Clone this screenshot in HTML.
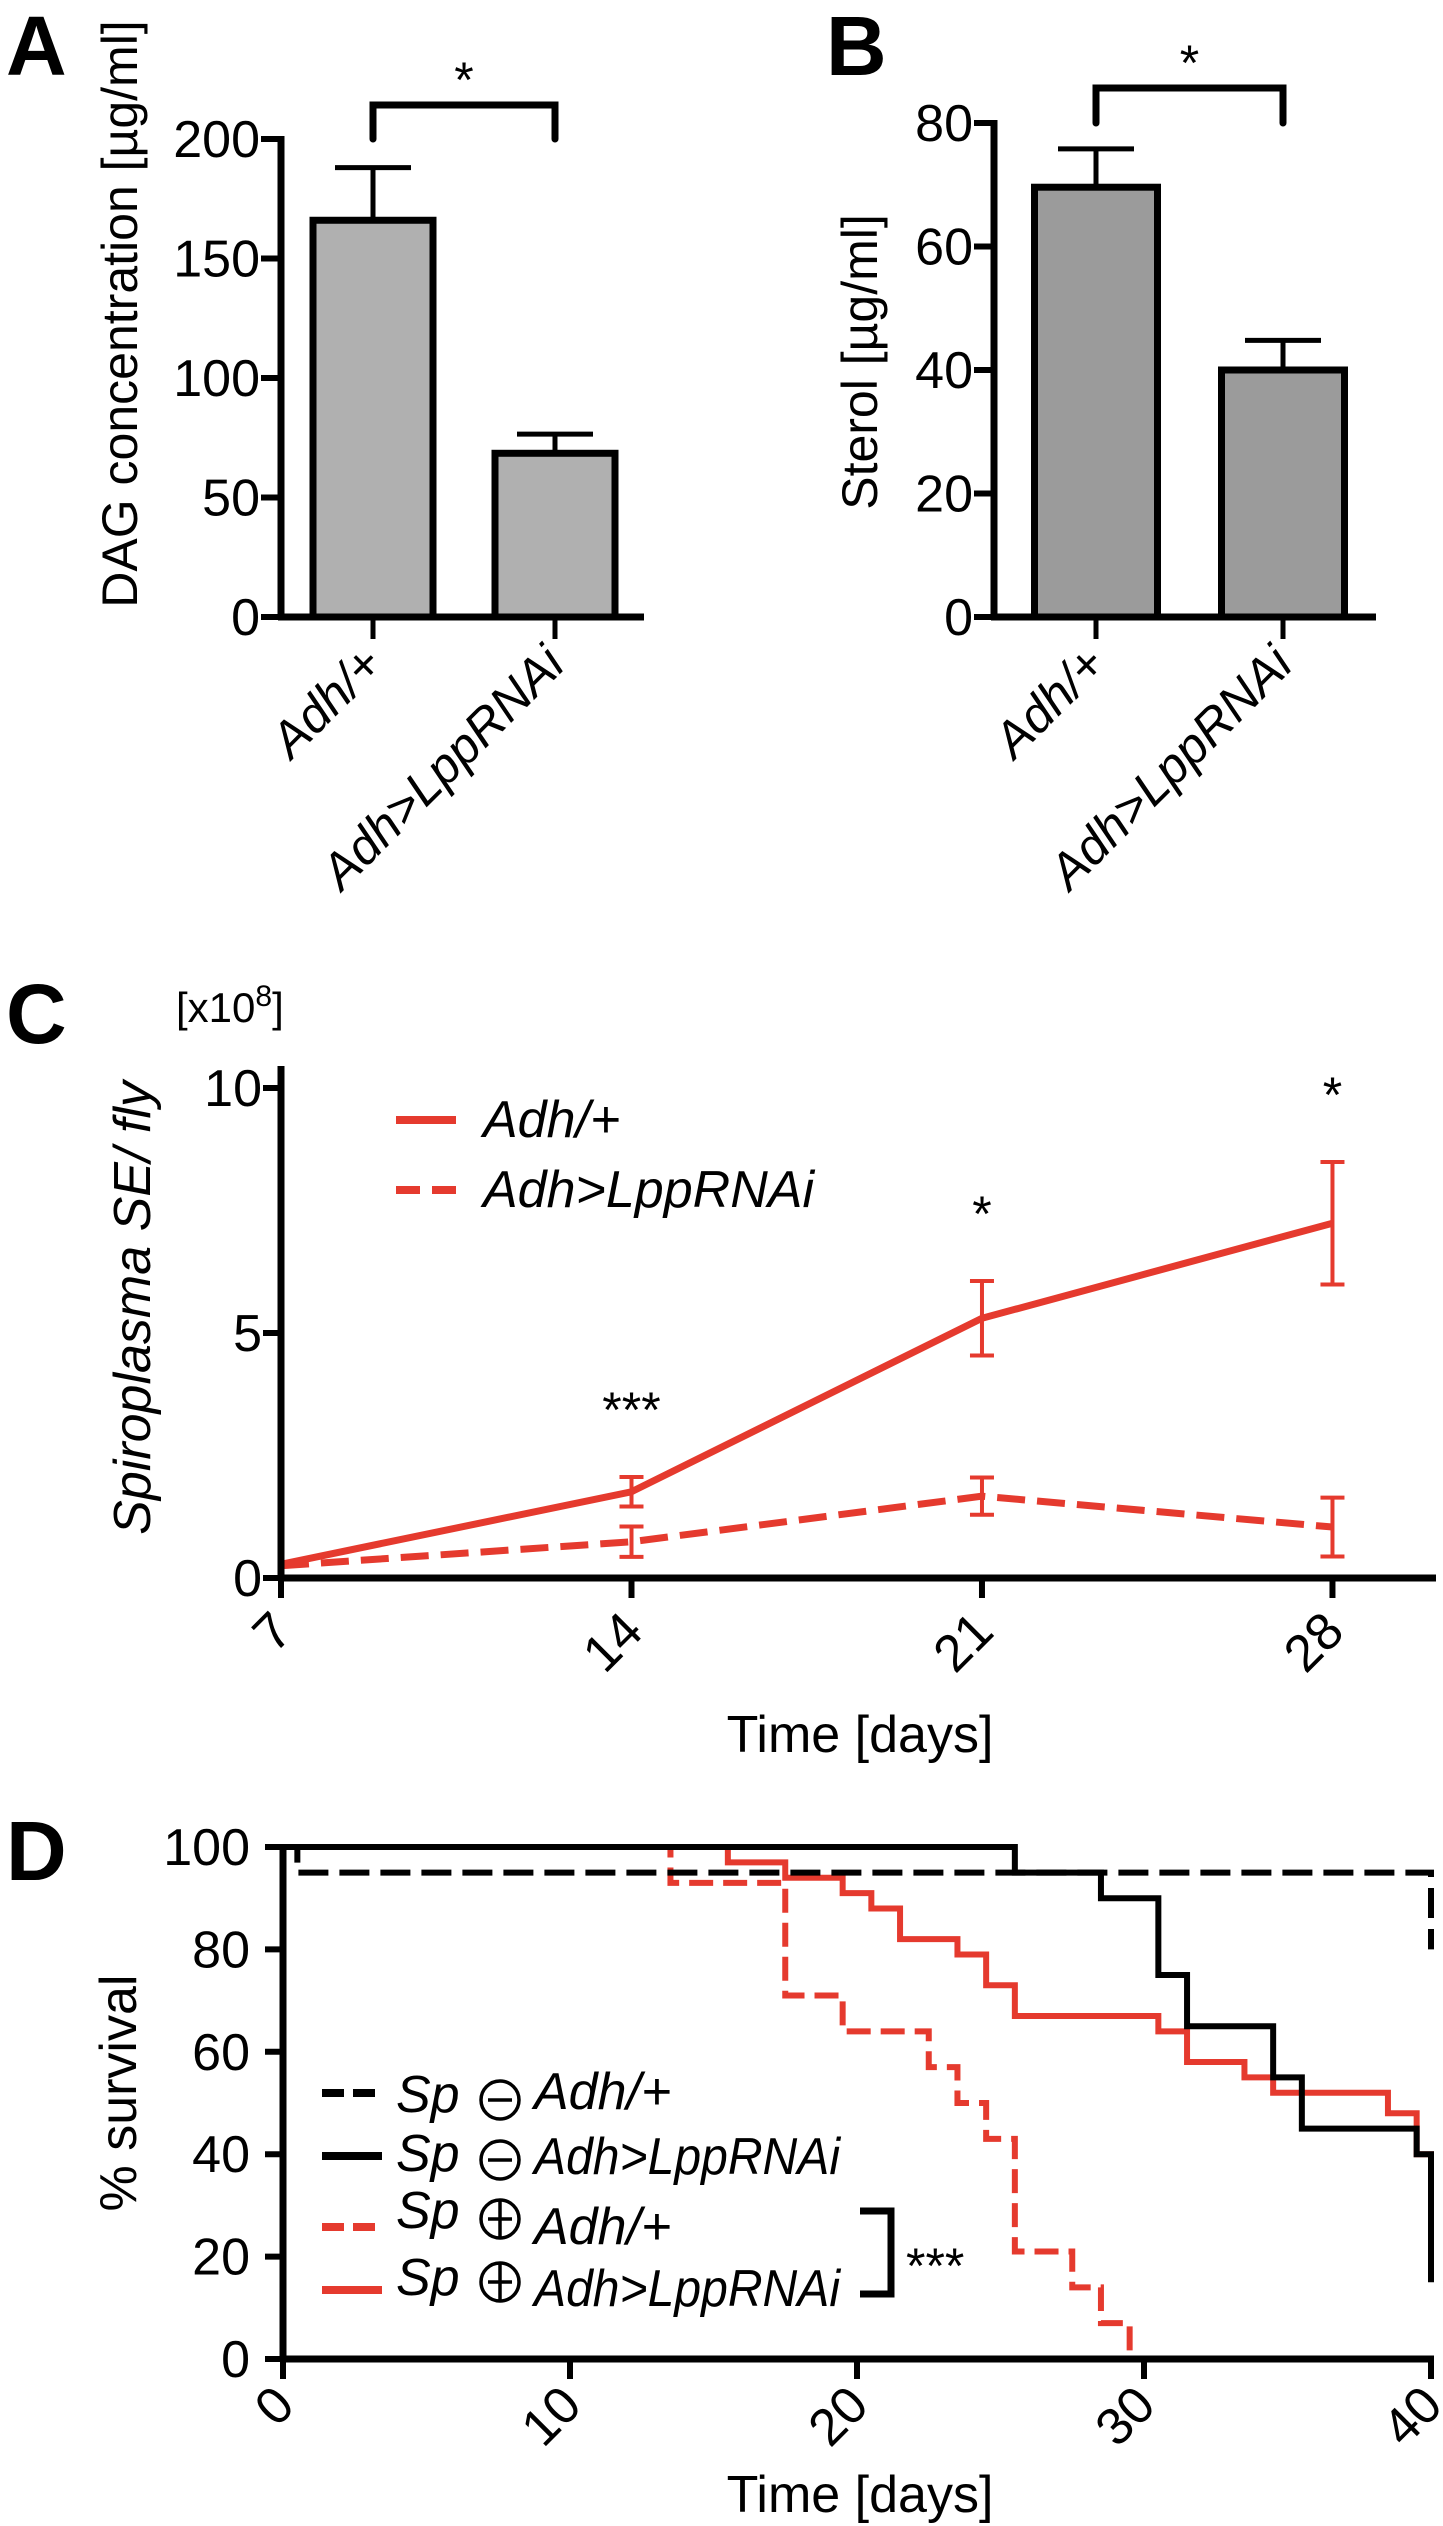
<!DOCTYPE html>
<html><head><meta charset="utf-8"><style>
html,body{margin:0;padding:0;background:#fff;}
svg{display:block;font-family:"Liberation Sans",Arial,sans-serif;}
</style></head><body>
<svg id="fig" width="1443" height="2526" viewBox="0 0 1443 2526" xmlns="http://www.w3.org/2000/svg">
<rect width="1443" height="2526" fill="#fff"/>
<g id="gA"></g>
<g id="gB"></g>
<g id="gC"></g>
<g id="gD"></g>
</svg>
<script>
// ---------- data ----------
const barCategories = ["Adh/+", "Adh>LppRNAi"];
const dagValues = [166, 68.5];
const dagErrors = [22, 8];
const dagTicks = [0, 50, 100, 150, 200];
const sterolValues = [69.6, 40];
const sterolErrors = [6.2, 4.8];
const sterolTicks = [0, 20, 40, 60, 80];

const cDays = [7, 14, 21, 28];
const cAdhMean = [0.28, 1.76, 5.3, 7.24];
const cAdhErr = [0, 0.3, 0.76, 1.25];
const cLppMean = [0.25, 0.74, 1.67, 1.04];
const cLppErr = [0, 0.31, 0.38, 0.6];
const cYTicks = [0, 5, 10];
const cStars = ["", "***", "*", "*"];

const dXTicks = [0, 10, 20, 30, 40];
const dYTicks = [0, 20, 40, 60, 80, 100];
const negAdhDays = [0.5, 40];
const negAdhLevels = [95, 80];
const negLppDays = [25.5, 28.5, 30.5, 31.5, 34.5, 35.5, 39.5, 40];
const negLppLevels = [95, 90, 75, 65, 55, 45, 40, 15];
const posLppDays = [15.5, 17.5, 19.5, 20.5, 21.5, 23.5, 24.5, 25.5, 30.5, 31.5, 33.5, 34.5, 38.5, 39.5, 40];
const posLppLevels = [97, 94, 91, 88, 82, 79, 73, 67, 64, 58, 55, 52, 48, 40, 36];
const posAdhDays = [13.5, 17.5, 19.5, 22.5, 23.5, 24.5, 25.5, 27.5, 28.5, 29.5];
const posAdhLevels = [93, 71, 64, 57, 50, 43, 21, 14, 7, 0];

// ---------- helpers ----------
const NS = "http://www.w3.org/2000/svg";
const RED = "#e53a2e";
const TF = 52;
function mk(parent, tag, attrs, text) {
  const e = document.createElementNS(NS, tag);
  for (const k in attrs) e.setAttribute(k, attrs[k]);
  if (text !== undefined) e.textContent = text;
  parent.appendChild(e);
  return e;
}
function line(p, x1, y1, x2, y2, sw, col, dash) {
  const a = {x1, y1, x2, y2, stroke: col || "#000", "stroke-width": sw || 7};
  if (dash) a["stroke-dasharray"] = dash;
  return mk(p, "line", a);
}

// ---------- panel A & B (bars) ----------
function barPanel(g, cfg) {
  const y = v => cfg.y0 - v * cfg.k;
  const label = mk(g, "text", {x: cfg.lx, y: 75, "font-size": 84, "font-weight": "bold"}, cfg.letter);
  
  
  cfg.vals.forEach((v, i) => {
    const cx = cfg.cx[i];
    const eb = line(g, cx, y(v), cx, y(v + cfg.errs[i]), 5);
    
    
    line(g, cx - 38, y(v + cfg.errs[i]), cx + 38, y(v + cfg.errs[i]), 5);
    const r = mk(g, "rect", {x: cx - cfg.w / 2, y: y(v), width: cfg.w, height: cfg.y0 - y(v), fill: cfg.fill, stroke: "#000", "stroke-width": 7});
    
    
    line(g, cx, cfg.y0, cx, cfg.y0 + 22, 5);
    const t = mk(g, "text", {x: cx + 12, y: cfg.y0 + 50, "font-size": 50, "font-style": "italic", "text-anchor": "end", transform: `rotate(-45 ${cx + 12} ${cfg.y0 + 50})`}, barCategories[i]);
    
    
  });
  const ya = line(g, cfg.ax, y(cfg.ticks[cfg.ticks.length - 1]) - 3, cfg.ax, cfg.y0 + 3, 7);
  
  
  const xa = line(g, cfg.ax - 3, cfg.y0, cfg.xend, cfg.y0, 7);
  
  
  cfg.ticks.forEach(t => {
    line(g, cfg.ax - 20, y(t), cfg.ax, y(t), 6);
    const tl = mk(g, "text", {x: cfg.ax - 21, y: y(t) + 18, "font-size": TF, "text-anchor": "end"}, String(t));
    
    
  });
  const yl = mk(g, "text", {x: cfg.ylx, y: cfg.yly, "font-size": 50, "text-anchor": "middle", transform: `rotate(-90 ${cfg.ylx} ${cfg.yly})`}, cfg.ytitle);
  
  
  const br = mk(g, "path", {d: `M${cfg.cx[0]} ${cfg.bb} V${cfg.bt} H${cfg.cx[1]} V${cfg.bb}`, fill: "none", stroke: "#000", "stroke-width": 7, "stroke-linecap": "round"});
  
  
  const st = mk(g, "text", {x: (cfg.cx[0] + cfg.cx[1]) / 2, y: cfg.bt - 8, "font-size": 50, "text-anchor": "middle"}, "*");
  
  
}
barPanel(document.getElementById("gA"), {letter: "A", lx: 6, y0: 617, k: 2.39, vals: dagValues, errs: dagErrors, ticks: dagTicks,
  cx: [373, 555], w: 120, fill: "#b0b0b0", ax: 281, xend: 644, ylx: 137, yly: 314, ytitle: "DAG concentration [µg/ml]", bt: 105, bb: 139});
barPanel(document.getElementById("gB"), {letter: "B", lx: 826, y0: 617, k: 6.175, vals: sterolValues, errs: sterolErrors, ticks: sterolTicks,
  cx: [1096, 1283], w: 123, fill: "#9b9b9b", ax: 994, xend: 1376, ylx: 877, yly: 362, ytitle: "Sterol [µg/ml]", bt: 88, bb: 123});

// ---------- panel C ----------
(function () {
  const g = document.getElementById("gC");
  const x = d => 281 + (d - 7) * 50.07;
  const y = v => 1578 - v * 49;
  const lab = mk(g, "text", {x: 6, y: 1043, "font-size": 84, "font-weight": "bold"}, "C");
  
  
  const mult = mk(g, "text", {x: 176, y: 1022, "font-size": 42});
  
  
  mk(mult, "tspan", {}, "[x10");
  mk(mult, "tspan", {dy: -16, "font-size": 30}, "8");
  mk(mult, "tspan", {dy: 16}, "]");
  function series(mean, err, dash, name) {
    const pts = cDays.map((d, i) => `${x(d)},${y(mean[i])}`).join(" ");
    const pl = mk(g, "polyline", {points: pts, fill: "none", stroke: RED, "stroke-width": 7, "stroke-dasharray": dash || "none"});
    
    
    cDays.forEach((d, i) => {
      if (!err[i]) return;
      const e = line(g, x(d), y(mean[i] - err[i]), x(d), y(mean[i] + err[i]), 4, RED);
      
      
      line(g, x(d) - 12, y(mean[i] - err[i]), x(d) + 12, y(mean[i] - err[i]), 4, RED);
      line(g, x(d) - 12, y(mean[i] + err[i]), x(d) + 12, y(mean[i] + err[i]), 4, RED);
    });
  }
  series(cLppMean, cLppErr, "28 12", "line-adh-lpp-rnai");
  series(cAdhMean, cAdhErr, null, "line-adh");
  cDays.forEach((d, i) => {
    if (!cStars[i]) return;
    const top = y(cAdhMean[i] + cAdhErr[i]);
    const s = mk(g, "text", {x: x(d), y: top - 50, "font-size": 50, "text-anchor": "middle"}, cStars[i]);
    
    
  });
  const ya = line(g, 281, 1066, 281, 1581, 7);
  
  
  const xa = line(g, 278, 1578, 1436, 1578, 7);
  
  
  cYTicks.forEach(t => {
    line(g, 263, y(t), 281, y(t), 6);
    const tl = mk(g, "text", {x: 262, y: y(t) + 18, "font-size": TF, "text-anchor": "end"}, String(t));
    
    
  });
  cDays.forEach(d => {
    line(g, x(d), 1578, x(d), 1598, 6);
    const tl = mk(g, "text", {x: x(d) + 14, y: 1634, "font-size": TF, "text-anchor": "end", transform: `rotate(-45 ${x(d) + 14} 1634)`}, String(d));
    
    
  });
  const xt = mk(g, "text", {x: 860, y: 1752, "font-size": 52, "text-anchor": "middle"}, "Time [days]");
  
  
  const yt = mk(g, "text", {x: 150, y: 1308, "font-size": 52, "font-style": "italic", "text-anchor": "middle", transform: "rotate(-90 150 1308)"}, "Spiroplasma SE/ fly");
  
  
  const l1 = line(g, 396, 1120, 456, 1120, 8, RED);
  
  
  const t1 = mk(g, "text", {x: 483, y: 1137, "font-size": 52, "font-style": "italic"}, "Adh/+");
  
  
  const l2 = line(g, 396, 1190, 456, 1190, 8, RED, "24 12");
  
  
  const t2 = mk(g, "text", {x: 483, y: 1207, "font-size": 52, "font-style": "italic"}, "Adh>LppRNAi");
  
  
})();

// ---------- panel D ----------
(function () {
  const g = document.getElementById("gD");
  const x = d => 283 + d * 28.7;
  const y = v => 2359 - v * 5.12;
  const lab = mk(g, "text", {x: 6, y: 1880, "font-size": 84, "font-weight": "bold"}, "D");
  
  
  function km(days, levels, col, dash, name) {
    let d = `M${x(0)} ${y(100)}`;
    days.forEach((t, i) => { d += ` H${x(t)} V${y(levels[i])}`; });
    const p = mk(g, "path", {d, fill: "none", stroke: col, "stroke-width": 6, "stroke-dasharray": dash || "none"});
    
    
  }
  km(posLppDays, posLppLevels, RED, null, "curve-sp-pos-adh-lpp-rnai");
  km(posAdhDays, posAdhLevels, RED, "24 10", "curve-sp-pos-adh");
  km(negLppDays, negLppLevels, "#000", null, "curve-sp-neg-adh-lpp-rnai");
  km(negAdhDays, negAdhLevels, "#000", "30 11", "curve-sp-neg-adh");
  const ya = line(g, 283, y(100) - 3, 283, 2362, 7);
  
  
  const xa = line(g, 280, 2359, 1434, 2359, 7);
  
  
  dYTicks.forEach(t => {
    line(g, 265, y(t), 283, y(t), 6);
    const tl = mk(g, "text", {x: 250, y: y(t) + 18, "font-size": TF, "text-anchor": "end"}, String(t));
    
    
  });
  dXTicks.forEach(t => {
    line(g, x(t), 2359, x(t), 2379, 6);
    const tl = mk(g, "text", {x: x(t) + 14, y: 2408, "font-size": TF, "text-anchor": "end", transform: `rotate(-45 ${x(t) + 14} 2408)`}, String(t));
    
    
  });
  const xt = mk(g, "text", {x: 860, y: 2512, "font-size": 52, "text-anchor": "middle"}, "Time [days]");
  
  
  const yt = mk(g, "text", {x: 136, y: 2093, "font-size": 52, "text-anchor": "middle", transform: "rotate(-90 136 2093)"}, "% survival");
  
  
  const rows = [
    {ly: 2093, col: "#000", dash: "22 9", sign: "-", spY: 2112, cy: 2100, gy: 2109, gt: "Adh/+"},
    {ly: 2156, col: "#000", dash: null, sign: "-", spY: 2171, cy: 2160, gy: 2174, gt: "Adh>LppRNAi"},
    {ly: 2227, col: RED, dash: "22 9", sign: "+", spY: 2228, cy: 2219, gy: 2244, gt: "Adh/+"},
    {ly: 2290, col: RED, dash: null, sign: "+", spY: 2295, cy: 2282, gy: 2306, gt: "Adh>LppRNAi"}
  ];
  rows.forEach(r => {
    const sw = line(g, 322, r.ly, 382, r.ly, 8, r.col, r.dash);
    
    
    const sp = mk(g, "text", {x: 396, y: r.spY, "font-size": 52, "font-style": "italic"}, "Sp");
    
    
    const c = mk(g, "circle", {cx: 500, cy: r.cy, r: 19, fill: "none", stroke: "#000", "stroke-width": 3.5});
    
    
    line(g, 488, r.cy, 512, r.cy, 3.5);
    if (r.sign === "+") line(g, 500, r.cy - 19, 500, r.cy + 19, 3.5);
    const ta = {x: 534, y: r.gy, "font-size": 52, "font-style": "italic"};
    if (r.gt.length > 6) { ta.textLength = 306; ta.lengthAdjust = "spacingAndGlyphs"; }
    const gt = mk(g, "text", ta, r.gt);
    
    
  });
  const br = mk(g, "path", {d: "M860 2211 H891 V2294 H860", fill: "none", stroke: "#000", "stroke-width": 7});
  
  
  const st = mk(g, "text", {x: 906, y: 2283, "font-size": 50}, "***");
  
  
})();
</script>
</body></html>
